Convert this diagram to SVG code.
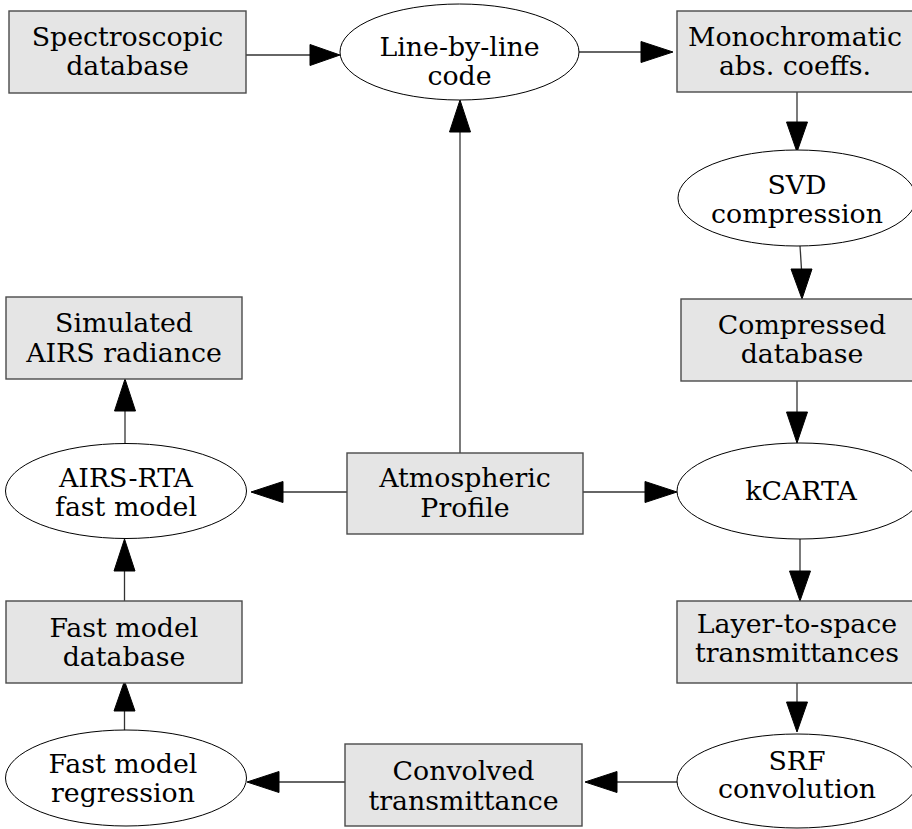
<svg xmlns="http://www.w3.org/2000/svg" width="912" height="829" viewBox="0 0 912 829">
<style>
.box{fill:#e5e5e5;stroke:#4a4a4a;stroke-width:1.4}
.ell{fill:#ffffff;stroke:#000000;stroke-width:1}
text{font-family:"DejaVu Serif",serif;font-size:26.8px;fill:#000000;text-anchor:middle}
.edge line{stroke:#333333;stroke-width:1.3}
.edge polygon{fill:#000000;stroke:#000000;stroke-width:1}
</style>
<rect width="912" height="829" fill="#ffffff"/>
<g class="edge" id="connectors">
<line x1="246" y1="55" x2="310" y2="55"/><polygon points="310,44.5 340,55 310,65.5"/>
<line x1="579" y1="52" x2="641" y2="52"/><polygon points="641,41.5 673,52 641,62.5"/>
<line x1="460" y1="453" x2="460" y2="132"/><polygon points="449.5,132 460,100 470.5,132"/>
<line x1="797" y1="92" x2="797" y2="122"/><polygon points="786.5,122 797,152 807.5,122"/>
<line x1="800" y1="246" x2="801.5" y2="269"/><polygon points="791,269 802,299 812,269"/>
<line x1="797" y1="381" x2="797" y2="412"/><polygon points="786.5,412 797,443 807.5,412"/>
<line x1="583" y1="492" x2="645" y2="492"/><polygon points="645,481.5 677,492 645,502.5"/>
<line x1="347" y1="492" x2="283" y2="492"/><polygon points="283,481.5 251,492 283,502.5"/>
<line x1="800" y1="539" x2="800" y2="571"/><polygon points="789.5,571 800,601 810.5,571"/>
<line x1="797" y1="683" x2="797" y2="702"/><polygon points="786.5,702 797,732 807.5,702"/>
<line x1="677" y1="782" x2="617" y2="782"/><polygon points="617,771.5 585,782 617,792.5"/>
<line x1="345" y1="782" x2="279" y2="782"/><polygon points="279,771.5 247,782 279,792.5"/>
<line x1="124.5" y1="737" x2="124.5" y2="711"/><polygon points="114,711 124.5,681 135,711"/>
<line x1="125" y1="443" x2="125" y2="411"/><polygon points="114.5,411 125,379 135.5,411"/>
<line x1="124.5" y1="601" x2="124.5" y2="571"/><polygon points="114,571 124.5,539 135,571"/>
</g>
<g id="spectroscopic"><rect class="box" x="9" y="11" width="237" height="82"/><text x="127.5" y="46">Spectroscopic</text><text x="127.5" y="75">database</text></g>
<g id="linebyline"><ellipse class="ell" cx="459.5" cy="52" rx="119.5" ry="48"/><text x="459.5" y="56">Line-by-line</text><text x="459.5" y="85">code</text></g>
<g id="monochromatic"><rect class="box" x="677" y="11" width="240" height="81"/><text x="795" y="46">Monochromatic</text><text x="795" y="75">abs. coeffs.</text></g>
<g id="svd"><ellipse class="ell" cx="797" cy="198" rx="119" ry="48"/><text x="797" y="194">SVD</text><text x="797" y="223">compression</text></g>
<g id="compressed"><rect class="box" x="681" y="299" width="242" height="82"/><text x="802" y="334">Compressed</text><text x="802" y="363">database</text></g>
<g id="kcarta"><ellipse class="ell" cx="800" cy="491" rx="123" ry="48"/><text x="801" y="500">kCARTA</text></g>
<g id="layertospace"><rect class="box" x="677" y="601" width="240" height="82"/><text x="797" y="633">Layer-to-space</text><text x="797" y="662">transmittances</text></g>
<g id="srf"><ellipse class="ell" cx="797" cy="781" rx="120" ry="47"/><text x="797" y="770">SRF</text><text x="797" y="798">convolution</text></g>
<g id="convolved"><rect class="box" x="345" y="744" width="237" height="82"/><text x="463.5" y="780">Convolved</text><text x="463.5" y="810">transmittance</text></g>
<g id="regression"><ellipse class="ell" cx="126" cy="778" rx="120.5" ry="48"/><text x="123" y="773">Fast model</text><text x="123" y="802">regression</text></g>
<g id="fastmodeldb"><rect class="box" x="6" y="601" width="236" height="82"/><text x="124" y="637">Fast model</text><text x="124" y="666">database</text></g>
<g id="airsrta"><ellipse class="ell" cx="126" cy="491" rx="120.5" ry="47.5"/><text x="126" y="487">AIRS-RTA</text><text x="126" y="516">fast model</text></g>
<g id="simulated"><rect class="box" x="6" y="297" width="236" height="82"/><text x="124" y="332">Simulated</text><text x="124" y="362">AIRS radiance</text></g>
<g id="atmospheric"><rect class="box" x="347" y="453" width="236" height="81"/><text x="465" y="487">Atmospheric</text><text x="465" y="517">Profile</text></g>
</svg>
